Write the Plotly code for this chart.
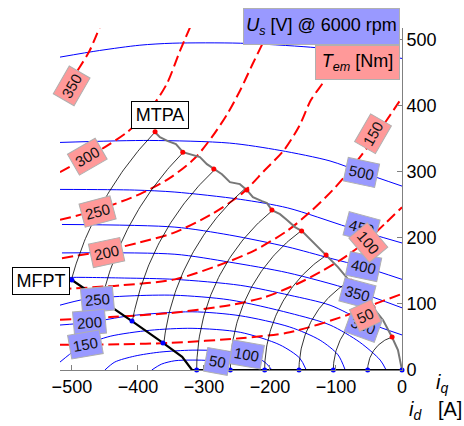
import numpy as np
import plotly.graph_objects as go

FONT = "Liberation Sans, Arial, Helvetica, sans-serif"

# ---------------- torque contours T_em [Nm]  (i_d, i_q in A) ----------------
T50_ID = [-518, -427, -352, -245, -170, -83, -38, 0]
T50_IQ = [38, 39, 41, 48, 57, 83, 101, 115]
T100_ID = [-518, -442, -352, -261, -208, -159, -124, -86, -53, -26, 0]
T100_IQ = [76, 80, 86, 98, 110, 130, 148, 171, 196, 221, 246]
T150_ID = [-518, -427, -344, -265, -223, -173, -139, -105, -79, -41, -6, 0]
T150_IQ = [122, 128, 137, 163, 181, 211, 239, 272, 302, 352, 403, 412]
T200_ID = [-515, -447, -397, -347, -291, -242, -208, -179, -155, -138, -114, -102, -91]
T200_IQ = [169, 181, 193, 207, 234, 267, 302, 332, 370, 408, 443, 476, 517]
T250_ID = [-518, -461, -397, -352, -314, -288, -264, -245, -227, -211, -200]
T250_IQ = [227, 242, 266, 290, 320, 352, 388, 423, 461, 494, 517]
T300_ID = [-518, -476, -450, -417, -397, -377, -356, -336, -321]
T300_IQ = [299, 322, 337, 359, 377, 400, 433, 483, 518]
T350_ID = [-518, -503, -488, -473, -458]
T350_IQ = [412, 435, 458, 483, 518]

# ---------------- voltage contours U_s [V] @ 6000 rpm ----------------
U50_ID = [-379, -364, -344, -318, -291, -273, -258]
U50_IQ = [0, 9, 14, 15, 14, 9, 0]
U100_ID = [-450, -435, -405, -367, -318, -276, -230, -208, -197]
U100_IQ = [0, 12, 21, 27, 30, 29, 23, 12, 0]
U150_ID = [-518, -495, -480, -442, -382, -318, -245, -185, -155, -145]
U150_IQ = [12, 30, 38, 51, 60, 63, 57, 38, 18, 0]
U200_ID = [-518, -473, -412, -318, -245, -170, -124, -97, -86]
U200_IQ = [68, 72, 82, 88, 82, 65, 45, 23, 0]
U250_ID = [-518, -480, -412, -344, -261, -170, -109, -64, -33, -24]
U250_IQ = [98, 107, 112, 113, 106, 86, 68, 42, 15, 0]
U300_ID = [-518, -500, -420, -344, -245, -170, -109, -56, 0]
U300_IQ = [139, 140, 139, 137, 128, 113, 98, 73, 53]
U350_ID = [-515, -344, -261, -173, -76, 0]
U350_IQ = [177, 175, 163, 147, 121, 94]
U400_ID = [-515, -344, -261, -173, -109, -59, 0]
U400_IQ = [220, 216, 204, 186, 169, 156, 137]
U450_ID = [-518, -405, -344, -245, -173, -82, 0]
U450_IQ = [273, 272, 269, 258, 245, 216, 192]
U500_ID = [-518, -382, -261, -185, -109, -61, 0]
U500_IQ = [344, 347, 343, 332, 316, 299, 278]
U550_ID = [-518, -458, -397, -347, -245, -139, -64, 0]
U550_IQ = [473, 483, 491, 494, 494, 488, 480, 471]

# ---------------- current levels, MTPA and MFPT points ----------------
I_LEVELS = [52, 104, 156, 208, 260, 311, 363, 415, 467, 519]
MTPA_ID = [-15, -44, -77, -115, -152, -197, -235, -285, -332, -374]
MTPA_IQ = [50, 95, 134, 174, 210, 242, 272, 304, 329, 360]
END_ID = [-52, -104, -156, -208, -260, -311, -362, -409, -455, -500]
END_IQ = [0, 0, 0, 0, 0, 0, 41, 74, 106, 136]

MTPA_PATH_ID = [-374, -366.7, -354.5, -342.4, -331.8, -318.2, -306.1, -295.5, -284.8,
                -272.7, -260.6, -245.5, -234.8, -225.8, -212.1, -204.5, -197, -184.8,
                -174.2, -162.1, -151.5, -134.8, -124.2, -115.2, -97, -81.8, -77.3,
                -59.1, -43.9, -28.8, -15.2, -6.1, 0]
MTPA_PATH_IQ = [359.5, 352, 346, 341.4, 329.3, 324.8, 321.8, 311.2, 303.6,
                296, 284, 281, 271.9, 261.3, 255.3, 252.3, 241.7, 235.6,
                226.6, 216, 210, 193.4, 181.3, 173.7, 155.6, 137.5, 134.4,
                113.3, 95.2, 75.5, 49.8, 30.2, 0]
MFPT_PATH_ID = [-500, -455, -409, -362, -333, -318, 0]
MFPT_PATH_IQ = [136, 106, 74, 41, 20, 0, 0]

# ---------------- contour label positions ----------------
T_LABELS = [("350", -500, 430, -60), ("300", -476, 322, -30), ("250", -461, 240, -15),
            ("200", -447, 178, -12), ("150", -44, 358, -60), ("100", -51, 193, 50),
            ("50", -55, 82, -25)]
U_LABELS = [("500", -61, 299, 12), ("450", -61, 215, 15), ("400", -59, 156, 12),
            ("350", -67, 116, 15), ("300", -59, 68, 20), ("250", -461, 106, -5),
            ("200", -473, 72, -5), ("150", -480, 38, -10), ("100", -235, 23, 10),
            ("50", -279, 13, 10)]

torque_curves = [(T50_ID, T50_IQ), (T100_ID, T100_IQ), (T150_ID, T150_IQ), (T200_ID, T200_IQ),
                 (T250_ID, T250_IQ), (T300_ID, T300_IQ), (T350_ID, T350_IQ)]
volt_curves = [(U50_ID, U50_IQ), (U100_ID, U100_IQ), (U150_ID, U150_IQ), (U200_ID, U200_IQ),
               (U250_ID, U250_IQ), (U300_ID, U300_IQ), (U350_ID, U350_IQ), (U400_ID, U400_IQ),
               (U450_ID, U450_IQ), (U500_ID, U500_IQ), (U550_ID, U550_IQ)]

fig = go.Figure()

for xs, ys in volt_curves:
    fig.add_trace(go.Scatter(x=xs, y=ys, mode="lines",
                             line=dict(color="#0000ff", width=1, shape="spline", smoothing=0.8),
                             hoverinfo="skip"))
for xs, ys in torque_curves:
    fig.add_trace(go.Scatter(x=xs, y=ys, mode="lines",
                             line=dict(color="#ff0000", width=2, dash="11px,5px",
                                       shape="spline", smoothing=0.8),
                             hoverinfo="skip"))

# constant-current arcs between MTPA point and MFPT / axis point
for r, d0, q0, d1, q1 in zip(I_LEVELS, MTPA_ID, MTPA_IQ, END_ID, END_IQ):
    th = np.linspace(np.arctan2(q0, d0), np.arctan2(q1, d1), 60)
    fig.add_trace(go.Scatter(x=r * np.cos(th), y=r * np.sin(th), mode="lines",
                             line=dict(color="black", width=0.8), hoverinfo="skip"))

fig.add_trace(go.Scatter(x=MTPA_PATH_ID, y=MTPA_PATH_IQ, mode="lines",
                         line=dict(color="#777777", width=2), hoverinfo="skip"))
fig.add_trace(go.Scatter(x=MFPT_PATH_ID, y=MFPT_PATH_IQ, mode="lines",
                         line=dict(color="black", width=2.2), hoverinfo="skip", cliponaxis=False))
fig.add_trace(go.Scatter(x=MTPA_ID, y=MTPA_IQ, mode="markers",
                         marker=dict(color="#ff0000", size=5), hoverinfo="skip", cliponaxis=False))
fig.add_trace(go.Scatter(x=END_ID + [0], y=END_IQ + [0], mode="markers",
                         marker=dict(color="#0000ff", size=5), hoverinfo="skip", cliponaxis=False))

ann = []
def clabel(txt, x, y, ang, bg):
    ann.append(dict(x=x, y=y, xref="x", yref="y", text=txt, showarrow=False,
                    xanchor="center", yanchor="middle",
                    textangle=ang, bgcolor=bg, bordercolor="#b0b0b0", borderwidth=1,
                    borderpad=3, font=dict(family=FONT, size=15, color="#111111")))

for t, x, y, a in U_LABELS:
    clabel(t, x, y, a, "#9999ff")
for t, x, y, a in T_LABELS:
    clabel(t, x, y, a, "#ff9999")

L, R, T, B = 60, 62, 28, 56
PW, PH = 464 - L - R, 426 - T - B
def px(xp, yp):
    return (xp - L) / PW, (426 - B - yp) / PH

def box(xp, yp, text, **kw):
    x0, y0 = px(xp, yp)
    d = dict(x=x0, y=y0, xref="paper", yref="paper", showarrow=False, text=text,
             xanchor="center", yanchor="middle")
    d.update(kw)
    ann.append(d)

box(321.5, 26.5, "<i>U</i><sub><i>s</i></sub> [V] @ 6000 rpm", width=151, height=31,
    bgcolor="#9999ff", bordercolor="#b0b0b0", borderwidth=1, borderpad=2,
    font=dict(family=FONT, size=18, color="black"))
box(357.5, 62.5, "<i>T</i><sub><i>em</i></sub> [Nm]", width=79, height=29,
    bgcolor="#ff9999", bordercolor="#b0b0b0", borderwidth=1, borderpad=2,
    font=dict(family=FONT, size=18, color="black"))
box(160, 115, "MTPA", width=52, height=22, bgcolor="white", bordercolor="black",
    borderwidth=1, borderpad=2, font=dict(family=FONT, size=18, color="black"))
box(41, 281, "MFPT", width=52, height=22, bgcolor="white", bordercolor="black",
    borderwidth=1, borderpad=2, font=dict(family=FONT, size=18, color="black"))
box(442, 383, "<i>i</i><sub><i>q</i></sub>", font=dict(family=FONT, size=20, color="black"))
box(435, 410, "<i>i</i><sub><i>d</i></sub>   [A]", font=dict(family=FONT, size=20, color="black"))

axis_common = dict(ticks="inside", ticklen=5, tickcolor="#808080", showline=True,
                   linecolor="#808080", linewidth=1, showgrid=False, zeroline=False,
                   tickfont=dict(family=FONT, size=18, color="black"), fixedrange=True)
fig.update_layout(
    width=464, height=426, margin=dict(l=L, r=R, t=T, b=B),
    paper_bgcolor="white", plot_bgcolor="white", showlegend=False,
    xaxis=dict(range=[-518, 0], tickvals=[-500, -400, -300, -200, -100, 0], **axis_common),
    yaxis=dict(range=[0, 517], side="right", tickvals=[0, 100, 200, 300, 400, 500], **axis_common),
    annotations=ann,
)

fig.write_html("out.html")
